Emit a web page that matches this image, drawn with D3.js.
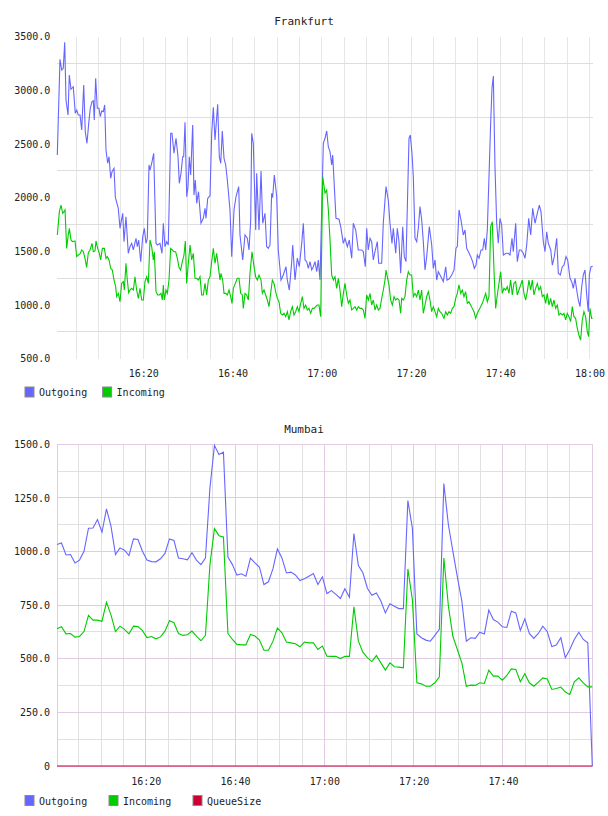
<!DOCTYPE html>
<meta charset="utf-8">

<style>
    body { margin: 0; background: #fff; }
    .tick line { visibility: hidden; }
    .domain { visibility: hidden; }
    text { font-family: "DejaVu Sans Mono", monospace; fill: #222; }
</style>

<script src="https://d3js.org/d3.v7.min.js"></script>

<div id="svg-holder"></div>

<script>
    /* Data. Times are minutes after 16:00, values are per series. */
    var seriesNames = ["Outgoing", "Incoming", "QueueSize"];

    // Frankfurt: [minute, value]
    var frankfurtOutgoing = [
[0.74,2396],[1.34,3288],[1.73,3188],[2.08,3204],[2.40,3446],[2.69,2908],[3.14,2769],[3.43,3141],[3.81,3008],[4.32,3032],
[4.77,2784],[5.09,2815],[5.45,2769],[5.83,2769],[6.21,2629],[6.66,3048],[7.01,2613],[7.39,2505],[7.78,2691],[8.13,2831],
[8.52,2893],[8.81,2902],[9.03,2722],[9.34,3111],[9.70,2831],[10.08,2831],[10.38,2753],[10.69,2806],[11.05,2800],[11.36,2862],
[11.65,2443],[12.03,2319],[12.33,2380],[12.71,2179],[13.00,2241],[13.45,2272],[13.75,2000],[14.41,1899],[14.79,1713],[15.40,1853],
[15.69,1588],[16.13,1821],[16.65,1480],[17.03,1542],[17.41,1573],[17.77,1511],[18.38,1620],[18.67,1542],[18.98,1604],[19.43,1402],
[19.88,1635],[20.24,1713],[20.62,1573],[20.91,1620],[21.29,2303],[21.51,2256],[21.89,2319],[22.34,2412],[22.86,1573],[23.15,1558],
[23.75,1573],[24.20,1480],[24.50,1760],[24.87,1542],[25.25,1588],[25.61,1558],[26.15,2598],[26.44,2598],[26.89,2412],[27.34,2552],
[27.79,2380],[28.08,2132],[28.46,2225],[28.84,2380],[29.06,2380],[29.36,2700],[29.74,2007],[30.03,2101],[30.32,2380],[30.63,2210],
[31.08,2675],[31.37,2023],[31.66,2163],[31.98,1946],[32.38,2054],[32.94,1760],[33.46,1806],[33.84,1899],[34.06,1806],[34.44,1992],
[34.96,2017],[35.34,2598],[35.70,2840],[36.08,2536],[36.68,2868],[37.04,2380],[37.36,2319],[37.71,2620],[38.10,2365],[38.48,2303],
[38.84,2163],[39.44,1884],[39.82,1449],[40.34,1884],[40.78,2007],[41.39,2101],[41.68,1651],[42.29,1418],[42.80,1651],[43.32,1620],
[43.70,1511],[44.08,1790],[44.30,2598],[44.66,2505],[45.20,1697],[45.42,2225],[45.94,1697],[46.39,2247],[46.77,1760],[47.28,1853],
[47.66,1542],[48.02,1527],[48.40,1558],[48.78,2039],[49.00,2000],[49.37,2210],[49.91,2007],[50.26,1511],[50.87,1231],[51.38,1278],
[51.99,1355],[52.28,1231],[52.73,1138],[53.27,1402],[53.49,1558],[54.01,1231],[54.52,1434],[54.97,1355],[55.51,1573],[55.87,1760],
[56.25,1418],[56.63,1402],[56.99,1340],[57.37,1402],[57.75,1325],[58.11,1355],[58.49,1402],[58.87,1309],[59.23,1418],[59.61,1231],
[60.35,2505],[60.73,2552],[61.11,2620],[61.47,2473],[61.85,2427],[62.23,2303],[62.45,2396],[63.19,1806],[63.87,1797],[64.25,1728],
[64.83,1573],[65.21,1620],[65.73,1542],[66.17,1604],[66.71,1434],[67.07,1760],[67.61,1697],[68.19,1511],[68.95,1511],[69.31,1496],
[69.76,1355],[70.07,1713],[70.43,1511],[70.81,1620],[71.19,1588],[71.55,1418],[71.93,1496],[72.45,1588],[72.76,1387],[73.43,1387],
[73.79,1760],[74.40,2101],[74.91,1977],[75.29,1760],[75.74,1573],[76.03,1713],[76.57,1480],[76.93,1713],[77.31,1588],[77.69,1294],
[78.14,1728],[78.50,1449],[78.88,1402],[79.55,2552],[79.84,2582],[80.22,2412],[80.52,2194],[80.90,1620],[81.28,1588],[81.64,1713],
[82.02,1915],[82.40,1790],[82.76,1588],[83.14,1325],[83.52,1449],[84.10,1728],[84.64,1558],[85.00,1340],[85.38,1418],[85.76,1231],
[86.12,1309],[86.50,1278],[86.88,1247],[87.24,1216],[87.78,1355],[88.07,1231],[88.52,1240],[89.12,1278],[89.64,1325],[90.08,1527],
[90.38,1542],[90.76,1884],[91.20,1790],[91.72,1651],[92.10,1697],[92.48,1527],[92.84,1496],[93.38,1449],[93.82,1402],[94.18,1340],
[94.57,1371],[94.86,1464],[95.24,1434],[95.69,1511],[96.07,1511],[96.43,1620],[96.74,1511],[97.10,1697],[97.86,2706],[98.15,3017],
[98.45,3132],[98.82,2287],[99.20,1760],[99.56,1573],[99.94,1806],[100.32,1744],[100.69,1464],[101.29,1480],[101.80,1480],[102.18,1464],
[102.63,1620],[102.92,1496],[103.46,1760],[103.82,1402],[104.27,1511],[104.65,1511],[105.17,1480],[105.55,1434],[105.93,1558],[106.38,1806],
[106.82,1651],[107.27,1899],[107.79,1760],[108.30,1853],[108.75,1930],[109.13,1868],[109.65,1588],[110.03,1495],[110.41,1681],[110.77,1573],
[111.31,1511],[111.67,1371],[112.11,1449],[112.65,1620],[113.01,1294],[113.46,1278],[113.90,1355],[114.29,1371],[114.73,1449],[115.11,1418],
[115.63,1247],[116.01,1216],[116.37,1154],[116.75,1247],[117.13,1138],[117.49,1045],[117.87,983],[118.25,1169],[118.61,1278],[118.99,1325],
[119.37,1092],[119.73,936],[119.96,1278],[120.34,1355],[120.72,1360]
    ];

    var frankfurtIncoming = [
[0.75,1651],[1.20,1868],[1.57,1930],[1.94,1853],[2.24,1868],[2.47,1884],[2.84,1526],[3.14,1635],[3.44,1713],[3.81,1604],
[4.18,1588],[4.71,1595],[5.08,1449],[5.45,1464],[5.83,1474],[6.20,1511],[6.57,1495],[6.95,1433],[7.32,1349],[7.69,1486],
[8.07,1511],[8.52,1573],[8.81,1495],[9.19,1502],[9.41,1595],[9.79,1526],[10.16,1480],[10.46,1418],[10.83,1526],[11.28,1526],
[11.65,1433],[11.95,1449],[12.33,1418],[12.70,1340],[13.07,1324],[13.45,1231],[13.82,1169],[14.04,1076],[14.42,1107],[14.79,1029],
[15.16,1200],[15.54,1216],[15.76,1138],[16.13,1387],[16.43,1231],[16.73,1113],[17.03,1138],[17.40,1154],[17.78,1138],[18.15,1262],
[18.52,1138],[18.90,1060],[19.27,1154],[19.65,1045],[20.02,1045],[20.39,1216],[20.77,1262],[21.14,1200],[21.51,1604],[21.89,1542],
[22.26,1418],[22.48,1495],[22.86,1123],[23.23,1092],[23.60,1092],[23.98,1107],[24.28,1045],[24.50,1185],[24.72,1045],[25.10,1138],
[25.40,1107],[25.77,1231],[26.14,1526],[26.52,1511],[26.89,1495],[27.26,1495],[27.64,1433],[28.01,1349],[28.38,1324],[28.76,1402],
[29.13,1464],[29.43,1595],[29.73,1200],[30.10,1387],[30.48,1557],[30.85,1418],[31.22,1480],[31.60,1247],[31.97,1247],[32.34,1231],
[32.72,1262],[33.09,1092],[33.46,1092],[33.84,1200],[34.21,1092],[34.59,1231],[34.96,1262],[35.33,1402],[35.71,1526],[36.08,1387],
[36.45,1480],[36.83,1356],[37.20,1231],[37.42,1293],[37.80,1231],[38.10,1107],[38.47,1107],[38.84,1092],[39.22,1138],[39.59,1076],
[39.89,1014],[40.19,1154],[40.64,1200],[41.08,1247],[41.46,1247],[41.83,1107],[42.20,1092],[42.43,967],[42.80,1107],[43.18,1092],
[43.55,1045],[43.92,1293],[44.37,1495],[44.82,1356],[45.19,1262],[45.57,1231],[45.94,1278],[46.39,1231],[46.69,1107],[47.06,1138],
[47.43,1092],[47.81,1045],[48.18,983],[48.55,1107],[48.93,1231],[49.30,1200],[49.67,1123],[50.05,1060],[50.42,1029],[50.79,921],
[51.17,905],[51.54,921],[51.91,890],[52.29,936],[52.66,859],[53.03,936],[53.41,983],[53.78,905],[54.15,936],[54.53,983],
[54.90,936],[55.28,1014],[55.65,1076],[56.02,967],[56.40,998],[56.77,952],[57.14,967],[57.52,921],[57.89,967],[58.26,967],
[58.64,983],[59.01,998],[59.38,998],[59.76,890],[60.21,2194],[60.73,2042],[61.11,2070],[61.48,1884],[61.85,1604],[62.22,1278],
[62.60,1231],[62.97,1262],[63.35,1154],[63.72,1247],[64.09,1138],[64.47,983],[64.84,1107],[65.21,1200],[65.59,1092],[65.96,1014],
[66.33,1045],[66.70,952],[67.08,967],[67.45,983],[67.83,952],[68.20,983],[68.57,967],[68.94,967],[69.32,952],[69.69,874],
[70.06,1092],[70.44,1045],[70.81,1107],[71.18,998],[71.56,1045],[71.93,952],[72.31,998],[72.68,952],[73.05,967],[73.43,1060],
[73.80,1138],[74.17,1231],[74.40,1324],[74.69,1262],[75.07,1185],[75.44,1045],[75.81,998],[76.19,1076],[76.56,1045],[76.93,1060],
[77.31,1045],[77.68,921],[77.90,1060],[78.28,1045],[78.65,1076],[79.03,1231],[79.40,1309],[79.77,1278],[80.15,1278],[80.52,1076],
[80.89,1107],[81.27,1076],[81.64,1138],[82.01,1045],[82.39,1138],[82.76,921],[83.13,998],[83.51,1076],[83.88,1123],[84.25,1045],
[84.63,936],[85.00,983],[85.37,936],[85.75,890],[86.12,967],[86.49,936],[86.87,921],[87.39,874],[87.77,936],[88.14,905],
[88.51,936],[88.89,921],[89.26,967],[89.63,983],[90.01,1060],[90.38,1107],[90.75,1185],[91.13,1107],[91.50,1138],[91.87,1076],
[92.24,1123],[92.62,1014],[92.99,1029],[93.36,998],[93.74,967],[94.11,936],[94.49,874],[94.86,921],[95.23,952],[95.61,983],
[95.98,1014],[96.35,1060],[96.73,1107],[97.10,1029],[97.47,1076],[97.85,1728],[98.22,1775],[98.59,1324],[98.97,967],[99.34,1092],
[99.71,1200],[100.09,1309],[100.46,1107],[100.83,1154],[101.21,1138],[101.58,1169],[101.95,1107],[102.33,1231],[102.70,1092],[103.07,1200],
[103.45,1216],[103.82,1092],[104.19,1138],[104.57,1185],[104.94,1231],[105.31,1107],[105.69,1045],[106.06,1123],[106.43,1231],[106.81,1138],
[107.18,1231],[107.55,1092],[107.93,1154],[108.30,1200],[108.67,1138],[109.05,1169],[109.42,1076],[109.79,1092],[110.17,1014],[110.54,1107],
[110.91,998],[111.29,1060],[111.66,983],[112.03,1045],[112.41,967],[112.78,998],[113.15,905],[113.53,921],[113.90,905],[114.27,921],
[114.65,859],[115.02,921],[115.39,890],[115.77,843],[116.14,983],[116.51,890],[116.88,874],[117.26,781],[117.63,719],[118.01,672],
[118.38,859],[118.75,936],[119.13,890],[119.50,750],[119.80,703],[120.10,967],[120.47,874],[120.69,874]
    ];

    // Mumbai: one sample per minute from 16:00:08 to 18:00:00
    var mumbaiOutgoing = [
1033,1040,984,986,947,960,1001,1109,1110,1149,1090,1199,1118,986,1017,1006,981,1059,1056,1001,
960,953,952,966,991,1059,1052,970,966,961,994,960,939,969,1297,1495,1452,1463,974,939,
890,896,885,969,947,928,846,859,919,1012,970,900,904,891,865,873,885,897,846,882,
804,818,800,781,826,787,1084,935,901,829,796,807,769,714,756,745,734,734,1238,1109,
616,598,587,582,609,637,1317,1126,1002,882,769,582,598,595,624,616,727,683,671,649,
646,722,714,632,686,618,595,618,652,626,557,564,598,505,543,590,624,590,574,0
    ];
    var mumbaiIncoming = [
640,649,616,618,601,604,627,702,680,680,675,764,705,627,652,637,616,652,650,631,
599,604,593,602,629,677,668,618,609,612,629,606,584,609,939,1107,1074,1068,618,590,
567,565,565,613,606,587,540,540,581,643,621,578,574,570,556,578,574,574,543,559,
512,511,512,501,512,511,742,582,531,505,487,515,481,447,481,463,461,458,919,776,
388,383,372,372,388,416,970,748,605,543,481,372,377,376,388,385,447,419,419,400,
422,453,450,393,430,388,372,391,411,406,357,361,368,345,334,393,411,388,369,369
    ];
    var mumbaiQueueSize = [
0,0,0,0,0,0,0,0,0,0,0,0,0,0,0,0,0,0,0,0,
0,0,0,0,0,0,0,0,0,0,0,0,0,0,0,0,0,0,0,0,
0,0,0,0,0,0,0,0,0,0,0,0,0,0,0,0,0,0,0,0,
0,0,0,0,0,0,0,0,0,0,0,0,0,0,0,0,0,0,0,0,
0,0,0,0,0,0,0,0,0,0,0,0,0,0,0,0,0,0,0,0,
0,0,0,0,0,0,0,0,0,0,0,0,0,0,0,0,0,0,0,0
    ];

    // Tick labels.
    var frankfurtTimeTicks = ["16:20", "16:40", "17:00", "17:20", "17:40", "18:00"];
    var frankfurtValueTicks = [500, 1000, 1500, 2000, 2500, 3000, 3500];
    var mumbaiTimeTicks = ["16:20", "16:40", "17:00", "17:20", "17:40"];
    var mumbaiValueTicks = [0, 250, 500, 750, 1000, 1250, 1500];

    /* Styles and layout. */
    var width = 608, height = 816;
    var colors = ["#6666ff", "#00cc00", "#cc0033"];
    var gridGray = "#e0e0e0";
    var gridMajor = "#e3cce3";

    var day = new Date(2000, 0, 1, 16, 0, 0);
    function atMinute(m) { return new Date(+day + m * 60000); }
    function parseClock(s) {
        var p = s.split(":");
        return new Date(2000, 0, 1, +p[0], +p[1], 0);
    }

    var svg = d3.select("#svg-holder").append("svg")
        .attr("width", width).attr("height", height);

    function drawTitle(label, y) {
        svg.append("text").attr("x", width / 2).attr("y", y)
            .attr("text-anchor", "middle").attr("font-size", "11px")
            .text(label);
    }

    function drawLegend(names, y, spacing) {
        names.forEach(function(name, i) {
            var x0 = 24.5 + i * spacing;
            svg.append("rect")
                .attr("x", x0 + 0.5).attr("y", y + 0.5)
                .attr("width", 9).attr("height", 10)
                .attr("fill", colors[i]).attr("stroke", "#8a8a8a");
            svg.append("text")
                .attr("x", x0 + 14.5).attr("y", y + 9.5)
                .attr("font-size", "10px")
                .text(name);
        });
    }

    function drawSeries(g, data, x, y, color) {
        var line = d3.line()
            .x(function(d) { return x(d[0]); })
            .y(function(d) { return y(d[1]); });
        g.append("path").datum(data)
            .attr("fill", "none").attr("stroke", color)
            .attr("stroke-width", 1.1)
            .attr("d", line);
    }

    function drawAxes(x, y, timeTicks, valueTicks, fmt, padX) {
        var top = y.range()[1], bottom = y.range()[0];
        svg.append("g").attr("transform", "translate(0," + bottom + ")")
            .call(d3.axisBottom(x).tickValues(timeTicks.map(parseClock))
                .tickFormat(d3.timeFormat("%H:%M")).tickSize(0).tickPadding(padX))
            .call(function(g) { g.selectAll("text").attr("font-size", "10px").attr("font-family", null); });
        svg.append("g").attr("transform", "translate(" + x.range()[0] + ",0)")
            .call(d3.axisLeft(y).tickValues(valueTicks).tickFormat(fmt).tickSize(0).tickPadding(7))
            .call(function(g) { g.selectAll("text").attr("font-size", "10px").attr("font-family", null); });
    }

    /* Frankfurt. */
    drawTitle("Frankfurt", 25);
    var x1 = d3.scaleTime().domain([atMinute(0.74), atMinute(120.85)]).range([57.3, 593.3]);
    var y1 = d3.scaleLinear().domain([500, 3500]).range([358.5, 36.5]);
    var grid1 = svg.append("g").attr("shape-rendering", "crispEdges");
    d3.timeMinute.every(5).range(x1.domain()[0], x1.domain()[1]).forEach(function(t) {
        grid1.append("line")
            .attr("x1", x1(t)).attr("x2", x1(t))
            .attr("y1", y1(3500)).attr("y2", y1(500))
            .attr("stroke", "#e6e6e6");
    });
    d3.range(750, 3500, 500).forEach(function(v) {
        grid1.append("line")
            .attr("x1", x1.range()[0]).attr("x2", x1.range()[1])
            .attr("y1", y1(v)).attr("y2", y1(v))
            .attr("stroke", "#dddddd");
    });
    var plot1 = svg.append("g");
    drawSeries(plot1, frankfurtOutgoing.map(function(d) { return [atMinute(d[0]), d[1]]; }), x1, y1, colors[0]);
    drawSeries(plot1, frankfurtIncoming.map(function(d) { return [atMinute(d[0]), d[1]]; }), x1, y1, colors[1]);
    drawAxes(x1, y1, frankfurtTimeTicks, frankfurtValueTicks, d3.format(".1f"), 11);
    drawLegend(seriesNames.slice(0, 2), 386.5, 77.6);

    /* Mumbai. */
    drawTitle("Mumbai", 433);
    var mStart = new Date(2000, 0, 1, 16, 0, 8), mEnd = new Date(2000, 0, 1, 18, 0, 0);
    var mStep = (mEnd - mStart) / (mumbaiOutgoing.length - 1);
    var x2 = d3.scaleTime().domain([mStart, mEnd]).range([57, 592.3]);
    var y2 = d3.scaleLinear().domain([0, 1500]).range([766, 444.3]);
    var grid2 = svg.append("g").attr("shape-rendering", "crispEdges");
    d3.timeMinute.every(5).range(mStart, mEnd).forEach(function(t) {
        if (t.getMinutes() % 20 == 0) return;
        grid2.append("line").attr("x1", x2(t)).attr("x2", x2(t))
            .attr("y1", y2(1500)).attr("y2", y2(0)).attr("stroke", gridGray);
    });
    d3.range(125, 1500, 250).forEach(function(v) {
        grid2.append("line").attr("x1", x2.range()[0]).attr("x2", x2.range()[1])
            .attr("y1", y2(v)).attr("y2", y2(v)).attr("stroke", gridGray);
    });
    d3.timeMinute.every(20).range(mStart, mEnd).forEach(function(t) {
        grid2.append("line").attr("x1", x2(t)).attr("x2", x2(t))
            .attr("y1", y2(1500)).attr("y2", y2(0)).attr("stroke", gridMajor);
    });
    mumbaiValueTicks.forEach(function(v) {
        grid2.append("line").attr("x1", x2.range()[0]).attr("x2", x2.range()[1])
            .attr("y1", y2(v)).attr("y2", y2(v)).attr("stroke", gridMajor);
    });
    grid2.append("rect")
        .attr("x", x2.range()[0]).attr("y", y2(1500))
        .attr("width", x2.range()[1] - x2.range()[0]).attr("height", y2(0) - y2(1500))
        .attr("fill", "none").attr("stroke", gridMajor);

    var plot2 = svg.append("g");
    [mumbaiOutgoing, mumbaiIncoming, mumbaiQueueSize].forEach(function(vals, k) {
        var pts = vals.map(function(v, i) { return [new Date(+mStart + i * mStep), v]; });
        drawSeries(plot2, pts, x2, y2, colors[k]);
    });
    drawAxes(x2, y2, mumbaiTimeTicks, mumbaiValueTicks,
        function(v) { return v == 0 ? "0" : d3.format(".1f")(v); }, 12);
    drawLegend(seriesNames, 795, 84);
</script>
